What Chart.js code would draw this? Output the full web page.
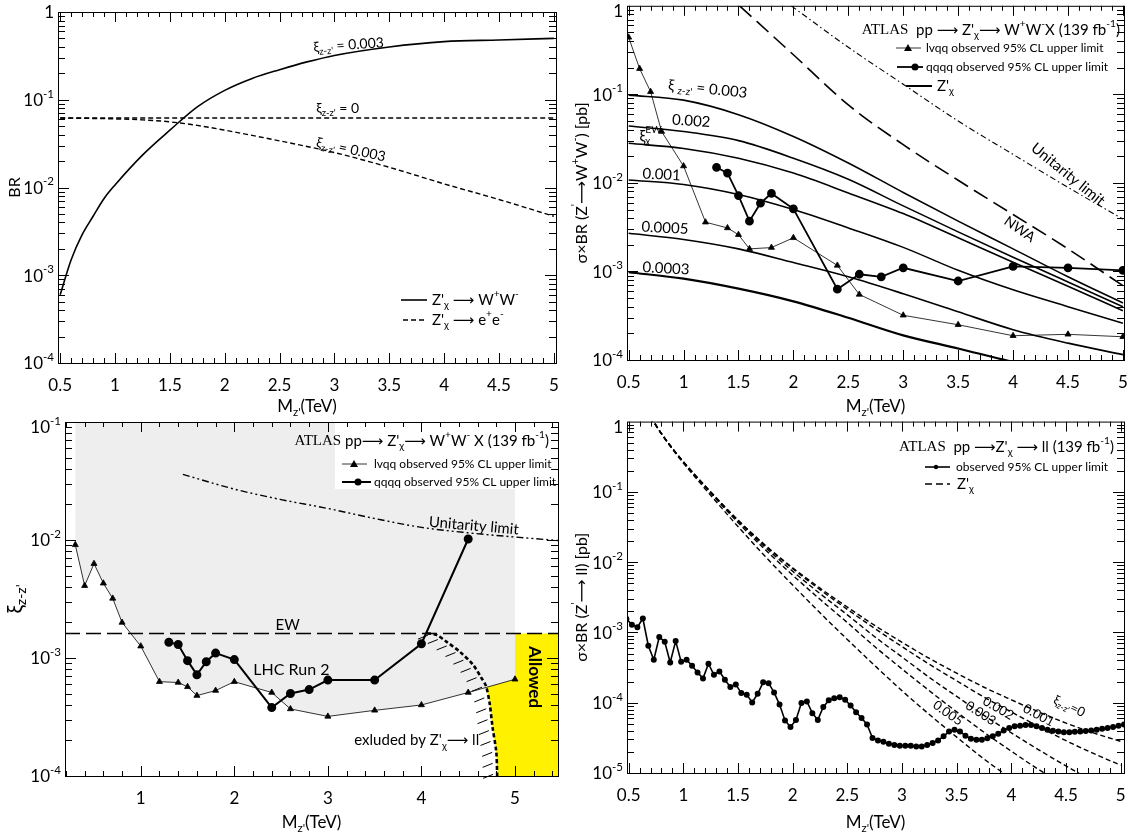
<!DOCTYPE html>
<html>
<head>
<meta charset="utf-8">
<title>Z' chi limits</title>
<script src="https://cdn.jsdelivr.net/npm/chart.js@4.4.1/dist/chart.umd.min.js"></script>
<style>
  html, body { margin: 0; padding: 0; background: #fff; }
  .panel { position: absolute; }
</style>
</head>
<body>
<div class="panel" style="left:0;top:0;width:567px;height:416px"><canvas id="brChart"></canvas></div>
<div class="panel" style="left:567px;top:0;width:568px;height:416px"><canvas id="wwChart"></canvas></div>
<div class="panel" style="left:0;top:416px;width:567px;height:416px"><canvas id="xiChart"></canvas></div>
<div class="panel" style="left:567px;top:416px;width:568px;height:416px"><canvas id="llChart"></canvas></div>
<script>
// ---- panel 1: branching ratios ----
const brWwX = [0.5, 0.6, 0.7, 0.8, 0.9, 1.0, 1.25, 1.5, 1.75, 2.0, 2.25, 2.5, 2.75, 3.0, 3.5, 4.0, 4.5, 5.0];
const brWwY = [0.0006, 0.0015, 0.0029, 0.0047, 0.0075, 0.0107, 0.0234, 0.045, 0.083, 0.128, 0.175, 0.22, 0.27, 0.32, 0.40, 0.46, 0.48, 0.50];
const brEe0X = [0.5, 5.0];
const brEe0Y = [0.062, 0.062];
const brEe3X = [0.5, 1.0, 1.25, 1.5, 1.75, 2.0, 2.5, 3.0, 3.5, 4.0, 4.5, 5.0];
const brEe3Y = [0.062, 0.0605, 0.059, 0.056, 0.051, 0.045, 0.034, 0.025, 0.017, 0.011, 0.0073, 0.0047];

// ---- panel 2: sigma x BR(WW) ----
const wwLvX = [0.5, 0.6, 0.7, 0.8, 1.0, 1.2, 1.4, 1.5, 1.6, 1.8, 2.0, 2.4, 2.6, 3.0, 3.5, 4.0, 4.5, 5.0];
const wwLvY = [0.44, 0.195, 0.107, 0.038, 0.0155, 0.0036, 0.0031, 0.0026, 0.0018, 0.00186, 0.0024, 0.00117, 0.00055, 0.00032, 0.00025, 0.000188, 0.000195, 0.000183];
const wwQqX = [1.3, 1.4, 1.5, 1.6, 1.7, 1.8, 2.0, 2.4, 2.6, 2.8, 3.0, 3.5, 4.0, 4.5, 5.0];
const wwQqY = [0.015, 0.0129, 0.0072, 0.0037, 0.0059, 0.0076, 0.0051, 0.00063, 0.00093, 0.00087, 0.0011, 0.00078, 0.00114, 0.0011, 0.00103];
const wwThX = [0.5, 1.0, 1.5, 2.0, 2.5, 3.0, 3.5, 4.0, 4.5, 5.0];
const wwXi003 = [0.098, 0.086, 0.059, 0.0335, 0.0168, 0.0078, 0.0037, 0.0018, 0.00087, 0.00044];
const wwXi002 = [0.044, 0.038, 0.030, 0.019, 0.011, 0.0055, 0.0028, 0.00145, 0.00076, 0.0004];
const wwXiEW = [0.028, 0.0245, 0.019, 0.0129, 0.0077, 0.0045, 0.0024, 0.00127, 0.00068, 0.00036];
const wwXi001 = [0.0108, 0.0096, 0.0074, 0.005, 0.0031, 0.00187, 0.00103, 0.00062, 0.0004, 0.00026];
const wwXi0005 = [0.0027, 0.0023, 0.0018, 0.00126, 0.00087, 0.00056, 0.00035, 0.00022, 0.000155, 0.000115];
const wwXi0003 = [0.00098, 0.00083, 0.00064, 0.00046, 0.0003, 0.00019, 0.000135, 0.000095, 0.00007, 0.000055];
const wwNwaX = [1.51, 2.0, 2.5, 3.0, 3.5, 4.0, 4.5, 5.0];
const wwNwaY = [1.0, 0.28, 0.076, 0.027, 0.0107, 0.0044, 0.0018, 0.00069];
const wwUniX = [1.98, 2.5, 3.0, 3.5, 4.0, 4.5, 5.0];
const wwUniY = [1.0, 0.34, 0.13, 0.05, 0.021, 0.0089, 0.0039];

// ---- panel 3: xi limits ----
const xiLvX = [0.3, 0.4, 0.5, 0.6, 0.7, 0.8, 1.0, 1.2, 1.4, 1.5, 1.6, 1.8, 2.0, 2.4, 2.6, 3.0, 3.5, 4.0, 4.5, 5.0];
const xiLvY = [0.0091, 0.0041, 0.0063, 0.0043, 0.0032, 0.002, 0.00126, 0.00063, 0.00062, 0.00057, 0.00048, 0.00053, 0.00063, 0.00051, 0.00037, 0.00032, 0.00036, 0.0004, 0.00051, 0.00066];
const xiQqX = [1.3, 1.4, 1.5, 1.6, 1.7, 1.8, 2.0, 2.4, 2.6, 2.8, 3.0, 3.5, 4.0, 4.5];
const xiQqY = [0.00136, 0.0013, 0.00095, 0.00072, 0.00093, 0.0011, 0.00097, 0.00038, 0.0005, 0.00054, 0.00065, 0.00065, 0.00132, 0.0102];
const xiUniX = [1.45, 2.0, 2.5, 3.0, 3.5, 4.0, 4.5, 5.0, 5.46];
const xiUniY = [0.036, 0.027, 0.022, 0.0185, 0.0152, 0.0128, 0.0115, 0.0106, 0.0099];
const xiEwX = [0.19, 5.46];
const xiEwY = [0.00161, 0.00161];
const xiLlX = [4.06, 4.16, 4.27, 4.41, 4.55, 4.64, 4.69, 4.73, 4.76, 4.80, 4.81];
const xiLlY = [0.00162, 0.00157, 0.00137, 0.00113, 0.00088, 0.00068, 0.00058, 0.00041, 0.00026, 0.00016, 0.0001];
const xiGrayX = [0.3].concat(xiLvX, [5.0]);
const xiGrayY = [0.1].concat(xiLvY, [0.1]);
const xiAllowX = [5.0, 5.5, 5.5, 4.81, 4.80, 4.76, 4.73, 4.69, 5.0];
const xiAllowY = [0.00161, 0.00161, 0.0001, 0.0001, 0.00016, 0.00026, 0.00041, 0.00058, 0.00066];

// ---- panel 4: sigma x BR(ll) ----
const llObsX = [0.48, 0.53, 0.58, 0.63, 0.68, 0.73, 0.78, 0.83, 0.88, 0.93,
  0.98, 1.03, 1.08, 1.13, 1.18, 1.23, 1.28, 1.33, 1.38, 1.43,
  1.48, 1.53, 1.58, 1.63, 1.68, 1.73, 1.78, 1.83, 1.88, 1.93,
  1.98, 2.03, 2.08, 2.13, 2.18, 2.23, 2.28, 2.33, 2.38, 2.43,
  2.48, 2.53, 2.58, 2.63, 2.68, 2.73, 2.78, 2.83, 2.88, 2.93,
  2.98, 3.03, 3.08, 3.13, 3.18, 3.23, 3.28, 3.33, 3.38, 3.43,
  3.48, 3.53, 3.58, 3.63, 3.68, 3.73, 3.78, 3.83, 3.88, 3.93,
  3.98, 4.03, 4.08, 4.13, 4.18, 4.23, 4.28, 4.33, 4.38, 4.43,
  4.48, 4.53, 4.58, 4.63, 4.68, 4.73, 4.78, 4.83, 4.88, 4.93,
  4.98, 5.03];
const llObsY = [1.55e-3, 1.29e-3, 1.19e-3, 1.58e-3, 6.46e-4, 4.09e-4, 8.59e-4, 7.37e-4, 3.74e-4, 7.53e-4,
  3.83e-4, 4.09e-4, 3.36e-4, 2.70e-4, 2.22e-4, 3.59e-4, 2.50e-4, 2.79e-4, 2.12e-4, 1.67e-4,
  1.82e-4, 1.37e-4, 1.30e-4, 1.01e-4, 1.34e-4, 1.95e-4, 1.90e-4, 1.40e-4, 9.4e-5, 5.6e-5,
  4.5e-5, 5.7e-5, 9.9e-5, 1.04e-4, 7.1e-5, 5.7e-5, 8.7e-5, 1.08e-4, 1.16e-4, 1.20e-4,
  1.10e-4, 9.1e-5, 7.3e-5, 6.05e-5, 4.9e-5, 3.15e-5, 2.91e-5, 2.79e-5, 2.61e-5, 2.50e-5,
  2.45e-5, 2.45e-5, 2.45e-5, 2.39e-5, 2.39e-5, 2.50e-5, 2.67e-5, 2.91e-5, 3.32e-5, 3.91e-5,
  4.13e-5, 3.91e-5, 3.40e-5, 3.08e-5, 2.98e-5, 2.98e-5, 3.11e-5, 3.32e-5, 3.62e-5, 4.04e-5,
  4.36e-5, 4.61e-5, 4.71e-5, 4.81e-5, 4.81e-5, 4.61e-5, 4.36e-5, 4.13e-5, 4.0e-5, 3.91e-5,
  3.79e-5, 3.79e-5, 3.87e-5, 3.91e-5, 3.95e-5, 4.04e-5, 4.13e-5, 4.27e-5, 4.36e-5, 4.51e-5,
  4.71e-5, 4.9e-5];
const llThX = [0.7, 0.8, 0.9, 1.0, 1.25, 1.5, 1.75, 2.0, 2.25, 2.5, 2.75, 3.0, 3.25, 3.5, 3.75, 4.0, 4.25, 4.5, 4.75, 5.0];
const llXi0 = [1.17, 0.676, 0.417, 0.269, 0.1, 0.0398, 0.0174, 0.00832, 0.00427, 0.00229, 0.00126, 0.000724, 0.000427, 0.000263, 0.000166, 0.00011, 7.41e-5, 5.13e-5, 3.72e-5, 2.82e-5];
const llXi001 = [1.17, 0.676, 0.417, 0.269, 0.1, 0.0394, 0.0171, 0.00807, 0.00406, 0.00213, 0.00114, 0.000628, 0.000352, 0.000205, 0.00012, 7.38e-5, 4.57e-5, 2.88e-5, 1.9e-5, 1.29e-5];
const llXi002 = [1.17, 0.676, 0.417, 0.268, 0.099, 0.0384, 0.0162, 0.00741, 0.00357, 0.00178, 0.00087, 0.000447, 0.000229, 0.000123, 6.6e-5, 3.72e-5, 2.14e-5, 1.26e-5, 7.6e-6, 4.9e-6];
const llXi003 = [1.17, 0.675, 0.415, 0.266, 0.096, 0.0366, 0.015, 0.00653, 0.00296, 0.00138, 0.00063, 0.000302, 0.000148, 7.4e-5, 3.8e-5, 2.04e-5, 1.12e-5, 6.5e-6, 3.8e-6, 2.4e-6];
const llXi005 = [1.16, 0.664, 0.405, 0.257, 0.0895, 0.0321, 0.012, 0.00473, 0.0019, 0.000794, 0.000339, 0.000148, 6.8e-5, 3.24e-5, 1.58e-5, 8.3e-6, 4.5e-6, 2.5e-6, 1.4e-6, 8e-7];

// tick labels
const halfTicks = [0.5, 1, 1.5, 2, 2.5, 3, 3.5, 4, 4.5, 5];
const unitTicks = [1, 2, 3, 4, 5];

const SANS = 'Lato, "DejaVu Sans", sans-serif';
const SERIF = '"Liberation Serif", "DejaVu Serif", serif';
const XIZ = ['ξ', ['z-z\'', 'sub']];
const ZCHI = ['Z\'', ['χ', 'sub']];

function pts(xs, ys) {
  return xs.map((x, i) => ({x: x, y: ys[i]}));
}

function line(xs, ys, o) {
  return Object.assign({
    data: pts(xs, ys), borderColor: '#000', backgroundColor: '#000',
    borderWidth: 1.5, pointRadius: 0, fill: false, tension: 0, order: 1
  }, o);
}

function smooth(xs, ys, o) {
  return line(xs, ys, Object.assign({cubicInterpolationMode: 'monotone'}, o));
}

function area(xs, ys, color) {
  return line(xs, ys, {borderColor: 'rgba(0,0,0,0)', borderWidth: 0, backgroundColor: color, fill: 'shape', order: 9});
}

// text with sub/superscripts; part = 'text' or [text, 'sub'|'sup', 'stack', family]
function rich(ctx, parts, x, y, o) {
  o = o || {};
  const size = o.size || 13;
  const weight = o.weight || 'normal';
  const segs = [];
  let cx = 0, prev = 0, maxX = 0;
  parts.forEach(p => {
    if (typeof p === 'string') p = [p, ''];
    const kind = p[1] || '';
    const s = kind ? size * 0.68 : size;
    const font = weight + ' ' + s + 'px ' + (p[3] || o.fam || SANS);
    ctx.font = font;
    const w = ctx.measureText(p[0]).width;
    if (p[2] === 'stack') cx = prev;
    segs.push({t: p[0], font: font, x: cx, dy: kind === 'sub' ? size * 0.32 : kind === 'sup' ? -size * 0.4 : 0});
    prev = cx;
    cx += w;
    maxX = Math.max(maxX, cx);
  });
  ctx.save();
  ctx.translate(x, y);
  if (o.rot) ctx.rotate(o.rot * Math.PI / 180);
  const start = o.align === 'left' ? 0 : o.align === 'right' ? -maxX : -maxX / 2;
  ctx.fillStyle = '#000';
  ctx.textAlign = 'left';
  ctx.textBaseline = 'middle';
  segs.forEach(s => {
    ctx.font = s.font;
    ctx.fillText(s.t, start + s.x, s.dy);
  });
  ctx.restore();
}

function legendRow(ctx, x0, x1, y, st, parts, tx, size) {
  ctx.save();
  ctx.strokeStyle = '#000';
  ctx.fillStyle = '#000';
  ctx.lineWidth = st.w;
  ctx.setLineDash(st.dash || []);
  ctx.beginPath();
  ctx.moveTo(x0, y);
  ctx.lineTo(x1, y);
  ctx.stroke();
  ctx.setLineDash([]);
  const mx = st.mx || (x0 + x1) / 2;
  if (st.marker === 'tri') {
    ctx.beginPath();
    ctx.moveTo(mx, y - 4);
    ctx.lineTo(mx + 4, y + 3);
    ctx.lineTo(mx - 4, y + 3);
    ctx.closePath();
    ctx.fill();
  } else if (st.marker === 'dot') {
    ctx.beginPath();
    ctx.arc(mx, y, st.r || 3.5, 0, Math.PI * 2);
    ctx.fill();
  }
  ctx.restore();
  rich(ctx, parts, tx, y, {size: size, align: 'left'});
}

function makeDeco(cfg) {
  return {
    id: 'deco' + cfg.canvas,
    afterDatasetsDraw(chart) {
      const ctx = chart.ctx, a = chart.chartArea, x = chart.scales.x, y = chart.scales.y;
      if (cfg.before) cfg.before(chart);
      ctx.save();
      ctx.strokeStyle = '#000';
      ctx.lineWidth = 1;
      ctx.setLineDash([]);
      ctx.beginPath();
      for (let v = cfg.xMinor[0]; v <= cfg.xMinor[1] + 1e-9; v += cfg.xMinor[2]) {
        const major = cfg.xLabels.some(t => Math.abs(t - v) < 1e-6);
        const L = major ? 10 : 5;
        const p = Math.round(x.getPixelForValue(v)) + 0.5;
        ctx.moveTo(p, a.bottom); ctx.lineTo(p, a.bottom - L);
        ctx.moveTo(p, a.top); ctx.lineTo(p, a.top + L);
      }
      for (let e = cfg.yExp[0]; e < cfg.yExp[1]; e++) {
        for (let m = 1; m < 10; m++) {
          const p = Math.round(y.getPixelForValue(m * Math.pow(10, e))) + 0.5;
          const L = m === 1 ? 11 : 7;
          ctx.moveTo(a.left, p); ctx.lineTo(a.left + L, p);
          ctx.moveTo(a.right, p); ctx.lineTo(a.right - L, p);
        }
      }
      ctx.stroke();
      ctx.strokeRect(a.left + 0.5, a.top + 0.5, a.right - a.left, a.bottom - a.top);
      ctx.restore();
      for (let e = cfg.yExp[0]; e <= cfg.yExp[1]; e++) {
        const p = Math.max(y.getPixelForValue(Math.pow(10, e)) + 1, 12);
        rich(ctx, e === 0 ? ['1'] : ['10', [String(e), 'sup']], a.left - 4, p, {size: 17, align: 'right'});
      }
      rich(ctx, ['M', ['z\'', 'sub'], '(TeV)'], (a.left + a.right) / 2, 407, {size: 17});
      rich(ctx, cfg.yTitle, 15, (a.top + a.bottom) / 2, {size: cfg.yTitleSize || 16, rot: -90});
      (cfg.notes || []).forEach(n => {
        rich(ctx, n.parts, x.getPixelForValue(n.x), y.getPixelForValue(n.y), n);
      });
      if (cfg.after) cfg.after(chart);
    }
  };
}

function build(cfg) {
  return new Chart(document.getElementById(cfg.canvas), {
    type: 'line',
    data: {datasets: cfg.datasets},
    options: {
      responsive: true,
      maintainAspectRatio: false,
      animation: false,
      events: [],
      layout: {padding: {top: cfg.pad[0], right: cfg.pad[1], bottom: 0, left: 0}},
      plugins: {legend: {display: false}, tooltip: {enabled: false}},
      scales: {
        x: {
          type: 'linear', min: cfg.xRange[0], max: cfg.xRange[1],
          grid: {display: false}, border: {display: false},
          ticks: {font: {family: SANS, size: 17}, color: '#000', padding: 4, maxRotation: 0, autoSkip: false,
            callback: v => String(v)},
          afterBuildTicks: s => { s.ticks = cfg.xLabels.map(v => ({value: v})); },
          afterFit: s => { s.height = cfg.xAxisH; }
        },
        y: {
          type: 'logarithmic', min: Math.pow(10, cfg.yExp[0]), max: Math.pow(10, cfg.yExp[1]),
          grid: {display: false}, border: {display: false},
          ticks: {display: false},
          afterFit: s => { s.width = cfg.yAxisW; }
        }
      }
    },
    plugins: [makeDeco(cfg)]
  });
}

// panel 1
build({
  canvas: 'brChart', pad: [12, 11], yAxisW: 58, xAxisH: 53,
  xRange: [0.48, 5.02], xLabels: halfTicks, xMinor: [0.5, 5.0, 0.1], yExp: [-4, 0],
  yTitle: ['BR'],
  datasets: [
    smooth(brWwX, brWwY, {borderWidth: 1.6}),
    line(brEe0X, brEe0Y, {borderWidth: 1.6, borderDash: [5, 3]}),
    smooth(brEe3X, brEe3Y, {borderWidth: 1.4, borderDash: [5, 3]})
  ],
  notes: [
    {x: 3.13, y: 0.42, parts: XIZ.concat([' = 0.003']), size: 14, rot: -4},
    {x: 3.03, y: 0.079, parts: XIZ.concat([' = 0']), size: 14},
    {x: 3.15, y: 0.027, parts: XIZ.concat([' = 0.003']), size: 14, rot: 12}
  ],
  after(chart) {
    const ctx = chart.ctx;
    legendRow(ctx, 401, 427, 300, {w: 1.6}, ZCHI.concat([' ⟶ W', ['+', 'sup'], 'W', ['-', 'sup']]), 432, 15);
    legendRow(ctx, 403, 427, 320, {w: 1.6, dash: [5, 3]}, ZCHI.concat([' ⟶ e', ['+', 'sup'], 'e', ['-', 'sup']]), 432, 15);
  }
});

// panel 2
build({
  canvas: 'wwChart', pad: [5, 11], yAxisW: 60, xAxisH: 56,
  xRange: [0.485, 5.01], xLabels: halfTicks, xMinor: [0.5, 5.0, 0.1], yExp: [-4, 0],
  yTitle: ['σ×BR (Z', ['\'', 'sup'], '⟶W', ['+', 'sup'], 'W', ['-', 'sup'], ') [pb]'], yTitleSize: 16,
  datasets: [
    line(wwLvX, wwLvY, {borderWidth: 0.8, pointRadius: 3.5, pointStyle: 'triangle'}),
    line(wwQqX, wwQqY, {borderWidth: 1.8, pointRadius: 3.5, pointStyle: 'circle'}),
    smooth(wwThX, wwXi003, {borderWidth: 1.6}),
    smooth(wwThX, wwXi002, {borderWidth: 1.6}),
    smooth(wwThX, wwXiEW, {borderWidth: 1.6}),
    smooth(wwThX, wwXi001, {borderWidth: 1.6}),
    smooth(wwThX, wwXi0005, {borderWidth: 1.6}),
    smooth(wwThX, wwXi0003, {borderWidth: 2.2}),
    smooth(wwNwaX, wwNwaY, {borderWidth: 1.6, borderDash: [16, 7]}),
    smooth(wwUniX, wwUniY, {borderWidth: 1.1, borderDash: [6, 3, 1.5, 3]})
  ],
  notes: [
    {x: 1.22, y: 0.115, parts: ['ξ ', ['z-z\'', 'sub'], ' = 0.003'], size: 15, rot: 6},
    {x: 1.07, y: 0.05, parts: ['0.002'], size: 15, rot: 4},
    {x: 0.7, y: 0.034, parts: ['ξ', ['χ', 'sub'], ['EW', 'sup', 'stack']], size: 15},
    {x: 0.8, y: 0.0124, parts: ['0.001'], size: 15, rot: 3},
    {x: 0.83, y: 0.0031, parts: ['0.0005'], size: 15, rot: 3},
    {x: 0.84, y: 0.00108, parts: ['0.0003'], size: 15, rot: 3},
    {x: 4.5, y: 0.0125, parts: ['Unitarity limit'], size: 15, rot: 39},
    {x: 4.06, y: 0.003, parts: ['NWA'], size: 14, rot: 35}
  ],
  after(chart) {
    const ctx = chart.ctx;
    rich(ctx, [['ATLAS', '', '', SERIF], '  pp ⟶ Z\'', ['χ', 'sub'], '⟶ W', ['+', 'sup'], 'W', ['-', 'sup'], 'X (139 fb', ['-1', 'sup'], ')'], 553, 30, {size: 15, align: 'right'});
    legendRow(ctx, 329, 354, 48, {w: 0.8, marker: 'tri', mx: 341}, ['lvqq observed 95% CL upper limit'], 359, 12);
    legendRow(ctx, 330, 356, 67, {w: 1.8, marker: 'dot', mx: 348}, ['qqqq observed 95% CL upper limit'], 359, 12);
    legendRow(ctx, 339, 365, 86, {w: 2}, ZCHI, 370, 15);
  }
});

// panel 3
build({
  canvas: 'xiChart', pad: [5, 9], yAxisW: 65, xAxisH: 56,
  xRange: [0.19, 5.46], xLabels: unitTicks, xMinor: [0.2, 5.4, 0.2], yExp: [-4, -1],
  yTitle: [['ξ', '', '', SANS], ['z-z\'', 'sub']], yTitleSize: 21,
  datasets: [
    area(xiGrayX, xiGrayY, '#eeeeee'),
    area(xiAllowX, xiAllowY, '#fff100'),
    line(xiEwX, xiEwY, {borderWidth: 1.5, borderDash: [15, 6]}),
    smooth(xiUniX, xiUniY, {borderWidth: 1.4, borderDash: [7, 3, 2, 3, 2, 3]}),
    line(xiLlX, xiLlY, {borderWidth: 2.6, borderDash: [4, 2.5], tension: 0.3}),
    line(xiLvX, xiLvY, {borderWidth: 0.8, pointRadius: 3.5, pointStyle: 'triangle'}),
    line(xiQqX, xiQqY, {borderWidth: 2, pointRadius: 3.5, pointStyle: 'circle'})
  ],
  notes: [
    {x: 4.56, y: 0.0132, parts: ['Unitarity limit'], size: 15, rot: 5},
    {x: 2.57, y: 0.0019, parts: ['EW'], size: 15},
    {x: 2.61, y: 0.0008, parts: ['LHC Run 2'], size: 16},
    {x: 3.95, y: 0.0002, parts: ['exluded by Z\'', ['χ', 'sub'], '⟶ ll'], size: 15},
    {x: 5.21, y: 0.00069, parts: ['Allowed'], size: 17, weight: 'bold', rot: 90}
  ],
  before(chart) {
    const ctx = chart.ctx, x = chart.scales.x, y = chart.scales.y;
    // hatching on the excluded side of the dilepton bound
    const P = xiLlX.map((v, i) => [x.getPixelForValue(v), y.getPixelForValue(xiLlY[i])]);
    ctx.save();
    ctx.strokeStyle = '#000';
    ctx.lineWidth = 1;
    ctx.beginPath();
    let carry = 5;
    for (let i = 0; i < P.length - 1; i++) {
      const L = Math.hypot(P[i + 1][0] - P[i][0], P[i + 1][1] - P[i][1]);
      let d = carry;
      while (d < L) {
        const t = d / L;
        const px = P[i][0] + (P[i + 1][0] - P[i][0]) * t;
        const py = P[i][1] + (P[i + 1][1] - P[i][1]) * t;
        ctx.moveTo(px - 4, py + 1);
        ctx.lineTo(px - 14, py + 5);
        d += 11;
      }
      carry = d - L;
    }
    ctx.stroke();
    ctx.fillStyle = '#fff';
    ctx.fillRect(335, 6, 180, 67);
    ctx.restore();
  },
  after(chart) {
    const ctx = chart.ctx;
    rich(ctx, [['ATLAS', '', '', SERIF], ' pp⟶ Z\'', ['χ', 'sub'], '⟶ W', ['+', 'sup'], 'W', ['-', 'sup'], ' X (139 fb', ['-1', 'sup'], ')'], 549, 25, {size: 15, align: 'right'});
    legendRow(ctx, 342, 367, 48, {w: 0.8, marker: 'tri', mx: 354}, ['lvqq observed 95% CL upper limit'], 374, 12);
    legendRow(ctx, 342, 371, 66, {w: 2, marker: 'dot', mx: 358}, ['qqqq observed 95% CL upper limit'], 374, 12);
  }
});

// panel 4
build({
  canvas: 'llChart', pad: [5, 11], yAxisW: 60, xAxisH: 59,
  xRange: [0.485, 5.03], xLabels: halfTicks, xMinor: [0.5, 5.0, 0.1], yExp: [-5, 0],
  yTitle: ['σ×BR (Z', ['\'', 'sup'], '⟶ ll) [pb]'], yTitleSize: 16,
  datasets: [
    smooth(llThX, llXi0, {borderWidth: 1.4, borderDash: [5, 3]}),
    smooth(llThX, llXi001, {borderWidth: 1.4, borderDash: [5, 3]}),
    smooth(llThX, llXi002, {borderWidth: 1.4, borderDash: [5, 3]}),
    smooth(llThX, llXi003, {borderWidth: 1.4, borderDash: [5, 3]}),
    smooth(llThX, llXi005, {borderWidth: 1.4, borderDash: [5, 3]}),
    line(llObsX, llObsY, {borderWidth: 1.6, pointRadius: 2.2, pointStyle: 'circle'})
  ],
  notes: [
    {x: 3.42, y: 7.1e-5, parts: ['0.005'], size: 13, rot: 35},
    {x: 3.72, y: 7.1e-5, parts: ['0.003'], size: 13, rot: 33},
    {x: 3.88, y: 8.3e-5, parts: ['0.002'], size: 13, rot: 30},
    {x: 4.25, y: 6.6e-5, parts: ['0.001'], size: 13, rot: 28},
    {x: 4.53, y: 8.9e-5, parts: XIZ.concat(['=0']), size: 13, rot: 25}
  ],
  after(chart) {
    const ctx = chart.ctx;
    rich(ctx, [['ATLAS', '', '', SERIF], '  pp ⟶Z\'', ['χ', 'sub'], ' ⟶ ll (139 fb', ['-1', 'sup'], ')'], 547, 31, {size: 15, align: 'right'});
    legendRow(ctx, 358, 383, 51, {w: 1.6, marker: 'dot', r: 2.2, mx: 369}, ['observed 95% CL upper limit'], 389, 12);
    legendRow(ctx, 358, 383, 68, {w: 1.4, dash: [7, 4]}, ZCHI, 390, 15);
  }
});
</script>
</body>
</html>
